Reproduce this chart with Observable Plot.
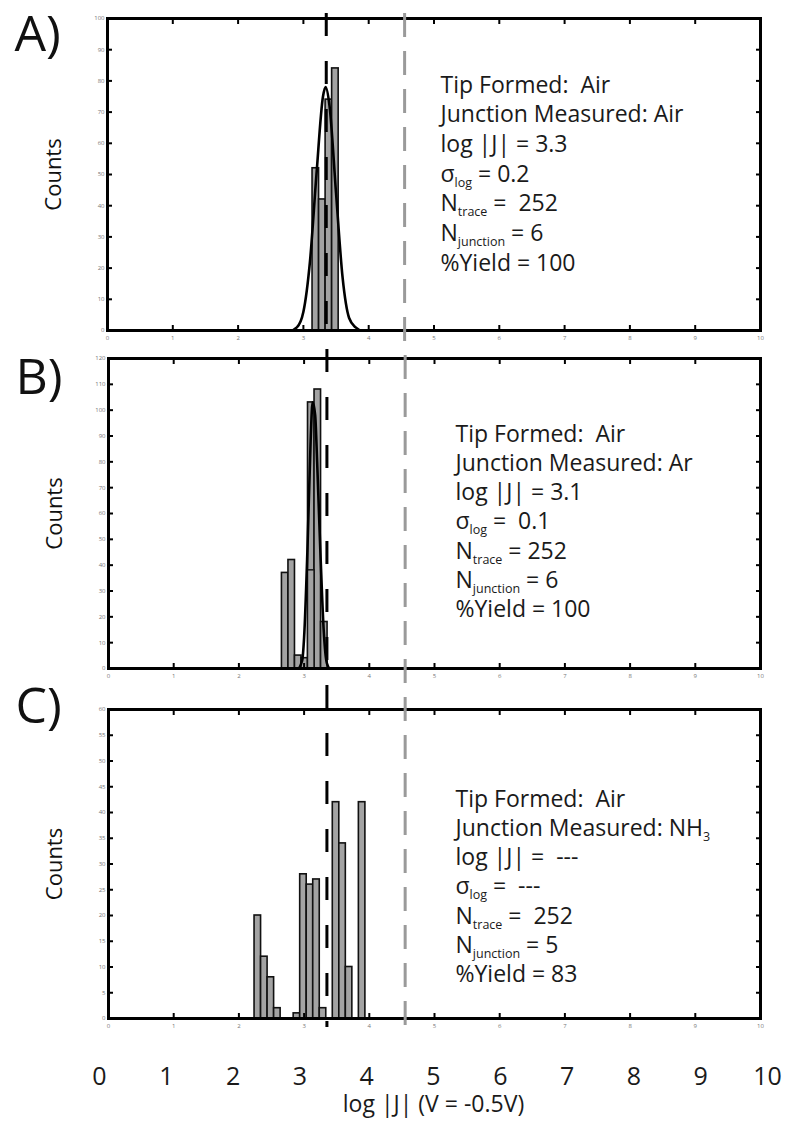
<!DOCTYPE html>
<html><head><meta charset="utf-8">
<script src="https://cdn.jsdelivr.net/npm/d3@7"></script>
<script src="https://cdn.jsdelivr.net/npm/@observablehq/plot@0.6"></script>
<style>
body{margin:0;background:#fff;}
#fig{position:relative;width:786px;height:1127px;font-family:"Open Sans",sans-serif;}
#fig svg{position:absolute;left:0;overflow:visible;}
#fig text{white-space:pre;}
</style></head><body><div id="fig"></div>
<script>
// ---------------- data ----------------
const xTicks = [0, 1, 2, 3, 4, 5, 6, 7, 8, 9, 10];
const xLabel = "log |J| (V = -0.5V)";
const yLabel = "Counts";
const panelLabels = ["A)", "B)", "C)"];
const meanLine = 3.35;   // black dashed reference
const refLine = 4.55;    // gray dashed reference
const binWidth = 0.1;

// Panel A
const aBinStart = [3.14, 3.24, 3.34, 3.44];
const aCounts   = [52, 42, 74, 84];
const aFitX = [0, 2.8, 2.9, 3.0, 3.1, 3.2, 3.3, 3.34, 3.4, 3.5, 3.6, 3.7, 3.8, 3.9, 10];
const aFitY = [0, 0, 1, 6, 22, 50, 75, 78, 72, 44, 17, 4, 1, 0, 0];
const aText = ["Tip Formed:\u00a0 Air", "Junction Measured: Air", "log |J| = 3.3", "σ_{log} = 0.2", "N_{trace} =\u00a0 252", "N_{junction} = 6", "%Yield = 100"];

// Panel B
const bBinStart = [2.66, 2.76, 2.86, 2.96, 3.06, 3.16, 3.26];
const bCounts   = [37, 42, 5, 4, 103, 108, 18];
const bOverlayStart = [3.06];
const bOverlayCounts = [38];
const bFitX = [0, 2.9, 2.97, 3.0, 3.05, 3.1, 3.13, 3.17, 3.2, 3.25, 3.3, 3.35, 3.4, 6];
const bFitY = [0, 0, 3, 12, 45, 88, 103, 98, 80, 45, 15, 2, 0, 0];
const bText = ["Tip Formed:\u00a0 Air", "Junction Measured: Ar", "log |J| = 3.1", "σ_{log} =\u00a0 0.1", "N_{trace} = 252", "N_{junction} = 6", "%Yield = 100"];

// Panel C
const cBinStart = [2.24, 2.34, 2.44, 2.54, 2.84, 2.94, 3.04, 3.14, 3.24, 3.44, 3.54, 3.64, 3.84];
const cCounts   = [20, 12, 8, 2, 1, 28, 26, 27, 2, 42, 34, 10, 42];
const cText = ["Tip Formed:\u00a0 Air", "Junction Measured: NH_{3}", "log |J| =\u00a0 ---", "σ_{log} =\u00a0 ---", "N_{trace} =\u00a0 252", "N_{junction} = 5", "%Yield = 83"];

const yMaxes = [100, 120, 60];
const yStepsArr = [10, 10, 5];

// ---------------- layout ----------------
const W = 786;
const FONT = "Open Sans";
const SUB_DY = 5, SUB_FS = 12.5;
const fig = document.getElementById("fig");

function applySubs(svg) {
  svg.querySelectorAll("text").forEach(t => {
    if (t.querySelector("tspan")) return;
    const raw = t.textContent;
    if (!raw.includes("_{")) return;
    t.textContent = "";
    const parts = raw.split(/_\{([^}]*)\}/);
    let shifted = false;
    parts.forEach((s, i) => {
      if (s === "") return;
      const ts = document.createElementNS("http://www.w3.org/2000/svg", "tspan");
      ts.textContent = s;
      if (i % 2 === 1) { ts.setAttribute("dy", SUB_DY); ts.setAttribute("font-size", SUB_FS); shifted = true; }
      else if (shifted) { ts.setAttribute("dy", -SUB_DY); shifted = false; }
      t.appendChild(ts);
    });
  });
}

function dashOffset(y0, first, period) {
  return (((y0 - first) % period) + period) % period;
}

function panel(p) {
  const bars = p.start.map((x, i) => ({x1: x, x2: x + binWidth, y: p.counts[i]}));
  const over = (p.ovStart || []).map((x, i) => ({x1: x, x2: x + binWidth, y: p.ovCounts[i]}));
  const fit = p.fitX ? p.fitX.map((x, i) => ({x, y: p.fitY[i]})) : [];
  const yTicks = d3.range(0, p.yMax + 0.001, p.yStep);
  const marks = [
    Plot.rectY(bars, {x1: "x1", x2: "x2", y: "y", fill: "#a3a3a3", stroke: "#111", strokeWidth: 1.6}),
    over.length ? Plot.rectY(over, {x1: "x1", x2: "x2", y: "y", fill: "#a3a3a3", stroke: "#111", strokeWidth: 1.4}) : null,
    fit.length ? Plot.line(fit, {x: "x", y: "y", curve: "monotone-x", stroke: "#000", strokeWidth: 2.6}) : null,
    // axes: tiny labels + inward ticks
    Plot.axisX({anchor: "bottom", ticks: xTicks, tickSize: 0, tickPadding: 5, fontSize: 6, fill: "#777", stroke: "none", label: null}),
    Plot.axisX({anchor: "bottom", ticks: xTicks, tickSize: -5, strokeWidth: 2, stroke: "#000", fill: "none", label: null}),
    Plot.axisX({anchor: "top", ticks: xTicks, tickSize: -5, strokeWidth: 2, stroke: "#000", fill: "none", label: null}),
    Plot.axisY({anchor: "left", ticks: yTicks, tickSize: 0, tickPadding: 3, fontSize: 6, fill: "#777", stroke: "none", label: null}),
    Plot.axisY({anchor: "left", ticks: yTicks, tickSize: -5, strokeWidth: 2, stroke: "#000", fill: "none", label: null}),
    Plot.axisY({anchor: "right", ticks: yTicks, tickSize: -5, strokeWidth: 2, stroke: "#000", fill: "none", label: null}),
    Plot.frame({stroke: "#000", strokeWidth: 3}),
    // reference lines spanning across panels
    Plot.ruleX([meanLine], {stroke: "#000", strokeWidth: 3, strokeDasharray: "23 25",
      strokeDashoffset: dashOffset(p.top, 13, 48), insetTop: -p.mt, insetBottom: p.blackBottom}),
    Plot.ruleX([refLine], {stroke: "#9a9a9a", strokeWidth: 3, strokeDasharray: "24 14",
      strokeDashoffset: dashOffset(p.top, 13, 38), insetTop: -p.mt, insetBottom: p.grayBottom}),
    // labels
    Plot.text([p.label], {frameAnchor: "top-left", dx: p.labelDx, dy: p.labelDy, lineAnchor: "top", textAnchor: "start", fontSize: 50, fill: "#111"}),
    Plot.text([yLabel], {frameAnchor: "left", dx: -54, rotate: -90, fontSize: 22, fill: "#111", textAnchor: "middle", lineAnchor: "middle"}),
    ...p.text.map((s, i) => Plot.text([s], {frameAnchor: "top-left", dx: p.textX - p.ml, dy: p.textY - p.top - p.mt + i * p.lh,
      lineAnchor: "bottom", textAnchor: "start", fontSize: 23, fill: "#1a1a1a"}))
  ].filter(Boolean);
  const svg = Plot.plot({
    width: W, height: p.height,
    marginTop: p.mt, marginBottom: p.mb, marginLeft: p.ml, marginRight: p.mr,
    style: {fontFamily: FONT, background: "transparent", overflow: "visible"},
    x: {domain: [0, 10]},
    y: {domain: [0, p.yMax]},
    marks
  });
  svg.style.top = p.top + "px";
  applySubs(svg);
  fig.appendChild(svg);
}

panel({top: 0, height: 345, mt: 18, mb: 15, ml: 107, mr: 26, yMax: yMaxes[0], yStep: yStepsArr[0],
  start: aBinStart, counts: aCounts, fitX: aFitX, fitY: aFitY, text: aText, label: panelLabels[0],
  labelDx: -93, labelDy: -3, textX: 440, textY: 92, lh: 29.7, blackBottom: -15, grayBottom: -15});
panel({top: 345, height: 345, mt: 13, mb: 22, ml: 108, mr: 26, yMax: yMaxes[1], yStep: yStepsArr[1],
  start: bBinStart, counts: bCounts, ovStart: bOverlayStart, ovCounts: bOverlayCounts, fitX: bFitX, fitY: bFitY,
  text: bText, label: panelLabels[1], labelDx: -93, labelDy: 0, textX: 455, textY: 441, lh: 29.3, blackBottom: -22, grayBottom: -22});
panel({top: 690, height: 350, mt: 19, mb: 22, ml: 108, mr: 26, yMax: yMaxes[2], yStep: yStepsArr[2],
  start: cBinStart, counts: cCounts, text: cText, label: panelLabels[2],
  labelDx: -93, labelDy: -22, textX: 455, textY: 806, lh: 29.3, blackBottom: -9, grayBottom: -14});

// big bottom axis
const axisSvg = Plot.plot({
  width: W, height: 87, marginTop: 20, marginBottom: 67, marginLeft: 99, marginRight: 19,
  style: {fontFamily: FONT, background: "transparent", overflow: "visible"},
  x: {domain: [0, 10]},
  marks: [
    Plot.axisX({anchor: "bottom", ticks: xTicks, tickSize: 0, tickPadding: 7, fontSize: 25, fill: "#1a1a1a", stroke: "none", label: null}),
    Plot.text([xLabel], {frameAnchor: "bottom", dy: 44, fontSize: 23, fill: "#1a1a1a", lineAnchor: "middle"})
  ]
});
axisSvg.style.top = "1040px";
fig.appendChild(axisSvg);
</script></body></html>
